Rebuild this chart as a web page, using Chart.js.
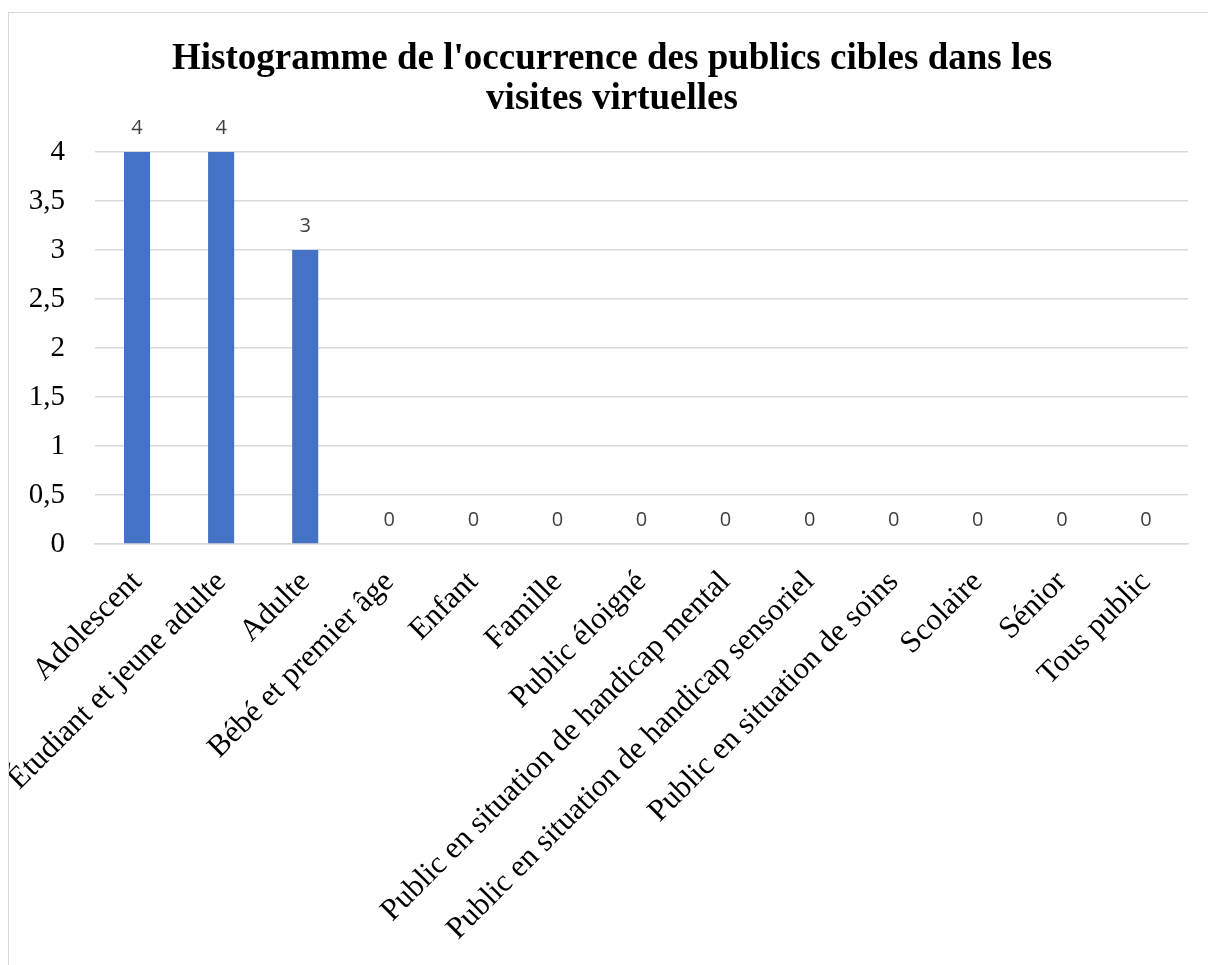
<!DOCTYPE html>
<html>
<head>
<meta charset="utf-8">
<script src="https://cdn.jsdelivr.net/npm/chart.js@4/dist/chart.umd.min.js"></script>
<style>
  body { margin: 0; background: #fff; overflow: hidden; }
  .frame {
    position: absolute; left: 8px; top: 12px;
    width: 1230px; height: 980px;
    border: 1px solid #d9d9d9;
  }
  .frame canvas { position: absolute; left: 0; top: 0; }
</style>
</head>
<body>
<div class="frame">
  <canvas id="chart" width="1200" height="952" style="width:1200px;height:952px"></canvas>
</div>
<script>
// categories (publics cibles)
const categories = [
  'Adolescent',
  'Étudiant et jeune adulte',
  'Adulte',
  'Bébé et premier âge',
  'Enfant',
  'Famille',
  'Public éloigné',
  'Public en situation de handicap mental',
  'Public en situation de handicap sensoriel',
  'Public en situation de soins',
  'Scolaire',
  'Sénior',
  'Tous public'
];
// occurrences
const occurrences = [4, 4, 3, 0, 0, 0, 0, 0, 0, 0, 0, 0, 0];

const titleLines = ["Histogramme de l'occurrence des publics cibles dans les", 'visites virtuelles'];

const serif = '"Liberation Serif", "Times New Roman", serif';

// title drawn by hand: the original is centred on the whole frame, a bit right of the plot centre
const chartTitle = {
  id: 'chartTitle',
  afterDraw(chart) {
    const ctx = chart.ctx;
    ctx.save();
    ctx.fillStyle = '#000';
    ctx.font = 'bold 37px ' + serif;
    ctx.textAlign = 'center';
    ctx.textBaseline = 'middle';
    titleLines.forEach((line, i) => {
      ctx.fillText(line, chart.width / 2 + 3, 46 + i * 40);
    });
    ctx.restore();
  }
};

// value labels above each bar (like Excel data labels)
const valueLabels = {
  id: 'valueLabels',
  afterDatasetsDraw(chart) {
    const ctx = chart.ctx;
    const meta = chart.getDatasetMeta(0);
    ctx.save();
    ctx.fillStyle = '#404040';
    ctx.font = '20px "Open Sans", "Liberation Sans", sans-serif';
    ctx.textAlign = 'center';
    ctx.textBaseline = 'middle';
    meta.data.forEach((bar, i) => {
      ctx.fillText(String(occurrences[i]), bar.x, bar.y - 24);
    });
    ctx.restore();
  }
};

new Chart(document.getElementById('chart').getContext('2d'), {
  type: 'bar',
  data: {
    labels: categories,
    datasets: [{
      data: occurrences,
      backgroundColor: '#4472C4',
      borderWidth: 0,
      barPercentage: 0.31,
      categoryPercentage: 1
    }]
  },
  options: {
    responsive: false,
    animation: false,
    layout: { padding: { left: 0, right: 21, top: 139, bottom: 0 } },
    plugins: {
      legend: { display: false },
      tooltip: { enabled: false },
      title: { display: false }
    },
    scales: {
      x: {
        grid: { display: false },
        border: { display: true, color: '#d9d9d9', width: 1.5 },
        ticks: {
          color: '#000',
          font: { family: serif, size: 31 },
          minRotation: 45,
          maxRotation: 45,
          autoSkip: false,
          padding: 12
        },
        afterFit(scale) { scale.height = 952 - 531; }
      },
      y: {
        min: 0,
        max: 4,
        ticks: {
          stepSize: 0.5,
          color: '#000',
          font: { family: serif, size: 29 },
          padding: 30,
          callback: (v) => String(v).replace('.', ',')
        },
        grid: { color: '#d9d9d9', lineWidth: 1.5, drawTicks: false },
        border: { display: false },
        afterFit(scale) { scale.width = 86; }
      }
    }
  },
  plugins: [valueLabels, chartTitle]
});
</script>
</body>
</html>
